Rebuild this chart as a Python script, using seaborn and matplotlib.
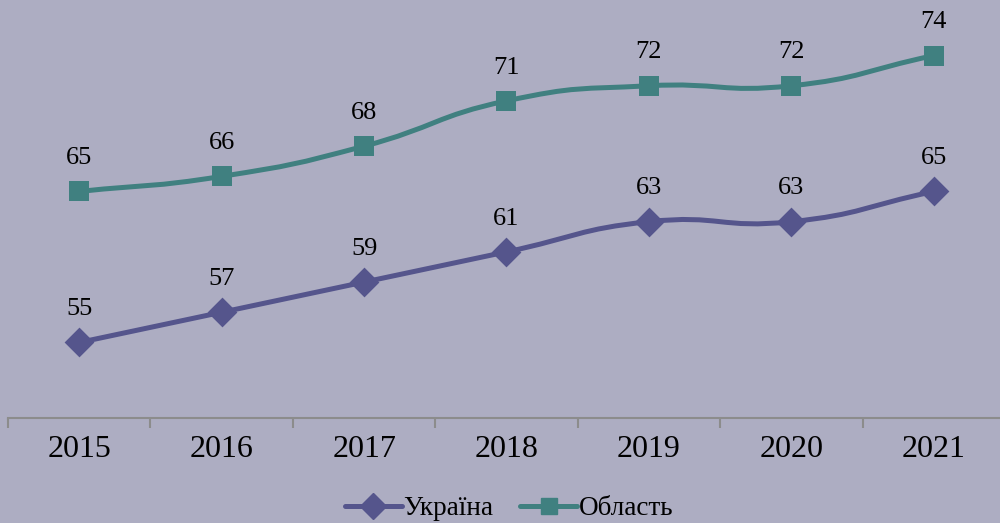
import seaborn as sns
import matplotlib.pyplot as plt
import pandas as pd
import numpy as np
from matplotlib.path import Path
from matplotlib.patches import PathPatch
from matplotlib.lines import Line2D

sns.set_style("white")
plt.rcParams['font.family'] = ['Liberation Serif', 'DejaVu Serif']
plt.rcParams['text.color'] = 'black'
plt.rcParams['xtick.color'] = 'black'

years = ["2015", "2016", "2017", "2018", "2019", "2020", "2021"]
ukraine = [55, 57, 59, 61, 63, 63, 65]
oblast = [65, 66, 68, 71, 72, 72, 74]

bg = "#ADADC2"
c_ukr = "#55558C"
c_obl = "#408080"

df = pd.DataFrame({"x": np.arange(len(years)), "Україна": ukraine, "Область": oblast})

fig = plt.figure(figsize=(10, 5.23), dpi=100)
fig.patch.set_facecolor(bg)
ax = fig.add_axes([0.008, 0.2008, 0.997, 0.7992])
ax.set_facecolor(bg)


def smooth_path(xs, ys, t=0.25):
    # cubic bezier through the points, like a spreadsheet "smoothed line"
    verts = [(xs[0], ys[0])]
    codes = [Path.MOVETO]
    n = len(xs)
    for i in range(n - 1):
        x0, y0 = xs[max(i - 1, 0)], ys[max(i - 1, 0)]
        x1, y1 = xs[i], ys[i]
        x2, y2 = xs[i + 1], ys[i + 1]
        x3, y3 = xs[min(i + 2, n - 1)], ys[min(i + 2, n - 1)]
        k1 = t * (2 if i == 0 else 1)
        k2 = t * (2 if i == n - 2 else 1)
        c1 = (x1 + (x2 - x0) * k1, y1 + (y2 - y0) * k1)
        c2 = (x2 - (x3 - x1) * k2, y2 - (y3 - y1) * k2)
        verts += [c1, c2, (x2, y2)]
        codes += [Path.CURVE4] * 3
    return Path(verts, codes)


for col, color, marker in [("Україна", c_ukr, "D"), ("Область", c_obl, "s")]:
    path = smooth_path(df["x"].values.astype(float), df[col].values.astype(float))
    ax.add_patch(PathPatch(path, facecolor="none", edgecolor=color, lw=3.6, zorder=2))
    sns.scatterplot(data=df, x="x", y=col, ax=ax, marker=marker, s=190 if marker == "s" else 230,
                    color=color, edgecolor=color, linewidth=0, zorder=3, legend=False)
    for xi, yi in zip(df["x"], df[col]):
        ax.annotate(str(yi), (xi, yi), xytext=(0, 24), textcoords="offset points",
                    ha="center", va="center", fontsize=19, color="black")

ax.set_xlim(-0.5, len(years) - 0.5)
ax.set_ylim(50, 77.68)
ax.set_xticks(np.arange(len(years)))
ax.set_xticklabels(years, fontsize=23, color="black")
ax.set_xticks(np.arange(len(years) + 1) - 0.5, minor=True)
ax.tick_params(axis="x", which="major", bottom=False, length=0, pad=12)
ax.tick_params(axis="x", which="minor", bottom=True, length=7, width=1.5, color="#8C8C8C",
               direction="out")
ax.set_yticks([])
ax.set_xlabel("")
ax.set_ylabel("")
for s in ["top", "right", "left"]:
    ax.spines[s].set_visible(False)
ax.spines["bottom"].set_color("#8C8C8C")
ax.spines["bottom"].set_linewidth(1.5)

handles = [
    Line2D([0], [0], color=c_ukr, lw=3.6, marker="D", markersize=13),
    Line2D([0], [0], color=c_obl, lw=3.6, marker="s", markersize=12),
]
fig.legend(handles, ["Україна", "Область"], loc="center", bbox_to_anchor=(0.509, 0.027),
           ncol=2, frameon=False, fontsize=19.5, handlelength=2.1, handletextpad=0.05,
           columnspacing=1.0, labelcolor="black")

plt.savefig("out.png", dpi=100, facecolor=bg)
plt.close()
